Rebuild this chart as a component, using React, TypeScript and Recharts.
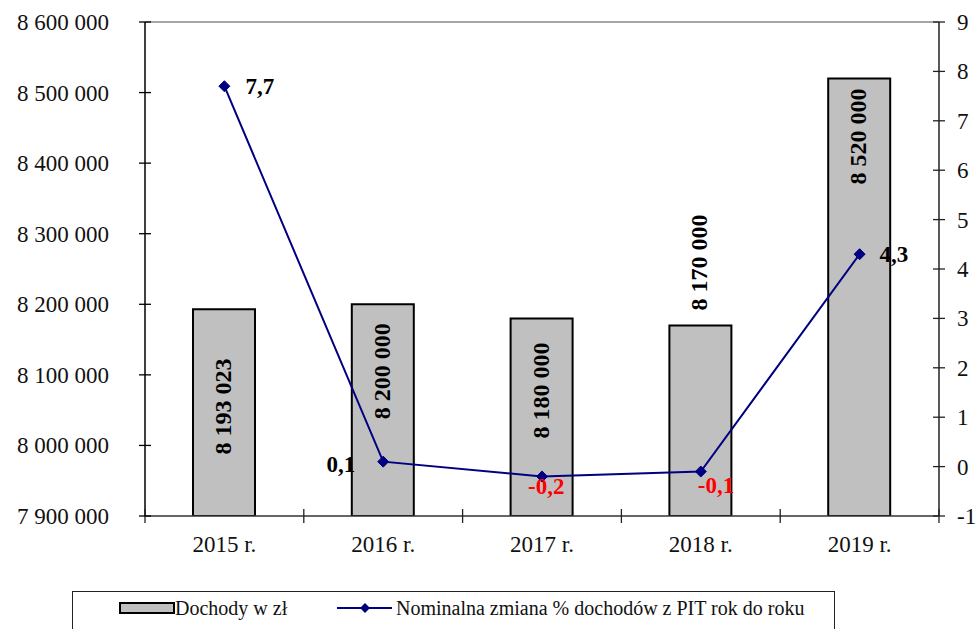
import React from "react";
import {
  ComposedChart,
  Bar,
  Line,
  XAxis,
  YAxis,
  LabelList,
  ReferenceLine,
} from "recharts";

const years = ["2015 r.", "2016 r.", "2017 r.", "2018 r.", "2019 r."];
const incomes = [8193023, 8200000, 8180000, 8170000, 8520000];
const changes = [7.7, 0.1, -0.2, -0.1, 4.3];
const leftTicks = [7900000, 8000000, 8100000, 8200000, 8300000, 8400000, 8500000, 8600000];
const rightTicks = [-1, 0, 1, 2, 3, 4, 5, 6, 7, 8, 9];
const incomeName = "Dochody w zł";
const changeName = "Nominalna zmiana % dochodów z PIT rok do roku";

const data = years.map((y, i) => ({ year: y, income: incomes[i], change: changes[i] }));

const W = 977;
const H = 629;
const LEFT_W = 145;
const RIGHT_W = 38;
const TOP = 22;
const X_H = 113;
const PLOT_R = W - RIGHT_W;
const PLOT_B = H - X_H;
const HALF_BAND = (PLOT_R - LEFT_W) / years.length / 2;
const FONT = "'Liberation Serif', 'Times New Roman', serif";

const fmtSpace = (v: number) => String(v).replace(/\B(?=(\d{3})+(?!\d))/g, " ");
const fmtComma = (v: number) => v.toFixed(1).replace(".", ",");

const LeftTick = (props: any) => {
  const { x, y, payload } = props;
  return (
    <g>
      <line x1={LEFT_W - 6} x2={LEFT_W + 6} y1={y} y2={y} stroke="#000" strokeWidth={1.3} />
      <text x={x} y={y} dy="0.35em" textAnchor="end" fontFamily={FONT} fontSize={23} fill="#111">
        {fmtSpace(payload.value)}
      </text>
    </g>
  );
};

const RightTick = (props: any) => {
  const { x, y, payload } = props;
  return (
    <g>
      <line x1={PLOT_R - 6} x2={PLOT_R + 6} y1={y} y2={y} stroke="#222" strokeWidth={1.3} />
      <text x={x} y={y} dy="0.35em" textAnchor="start" fontFamily={FONT} fontSize={23} fill="#111">
        {payload.value}
      </text>
    </g>
  );
};

const XTick = (props: any) => {
  const { x, y, payload, index } = props;
  const last = index === years.length - 1;
  return (
    <g>
      <line x1={x - HALF_BAND} x2={x - HALF_BAND} y1={PLOT_B - 7} y2={PLOT_B + 7} stroke="#222" strokeWidth={1.3} />
      {last && (
        <line x1={x + HALF_BAND} x2={x + HALF_BAND} y1={PLOT_B - 7} y2={PLOT_B + 7} stroke="#222" strokeWidth={1.3} />
      )}
      <text x={x} y={y} dy="0.71em" textAnchor="middle" fontFamily={FONT} fontSize={23} fill="#111">
        {payload.value}
      </text>
    </g>
  );
};

// label placement rules (per bar): center, or offset from bar top
const barLabelRule = [
  { mode: "middle", off: -6 },
  { mode: "top", off: 19 },
  { mode: "top", off: 24 },
  { mode: "top", off: -111 },
  { mode: "top", off: 10 },
];

const BarLabel = (props: any) => {
  const { x, y, width, height, value, index } = props;
  const rule = barLabelRule[index];
  const px = x + width / 2 + 7;
  let py: number;
  let anchor: "middle" | "end";
  if (rule.mode === "middle") {
    py = y + height / 2 + rule.off;
    anchor = "middle";
  } else {
    py = y + rule.off;
    anchor = "end";
  }
  return (
    <text
      x={px}
      y={py}
      transform={`rotate(-90 ${px} ${py})`}
      textAnchor={anchor}
      fontFamily={FONT}
      fontSize={24}
      fontWeight="bold"
      fill="#000"
    >
      {fmtSpace(value)}
    </text>
  );
};

const lineLabelRule = [
  { dx: 21, dy: 8, anchor: "start" },
  { dx: -28, dy: 10, anchor: "end" },
  { dx: -14, dy: 18, anchor: "start" },
  { dx: -3, dy: 21, anchor: "start" },
  { dx: 20, dy: 8, anchor: "start" },
];

const LineLabel = (props: any) => {
  const { x, y, value, index } = props;
  const r = lineLabelRule[index];
  return (
    <text
      x={x + r.dx}
      y={y + r.dy}
      textAnchor={r.anchor as any}
      fontFamily={FONT}
      fontSize={23}
      fontWeight="bold"
      fill={value < 0 ? "#ff0000" : "#000"}
    >
      {fmtComma(value)}
    </text>
  );
};

const Diamond = (props: any) => {
  const { cx, cy } = props;
  if (cx == null || cy == null) return null;
  const s = 5.5;
  return (
    <path
      d={`M${cx},${cy - s} L${cx + s},${cy} L${cx},${cy + s} L${cx - s},${cy} Z`}
      fill="#000080"
      stroke="#000080"
    />
  );
};

export default function App() {
  return (
    <div style={{ position: "absolute", left: 0, top: 0, width: W, height: H, background: "#fff" }}>
      <ComposedChart
        width={W}
        height={H}
        data={data}
        margin={{ top: TOP, right: 0, bottom: 0, left: 0 }}
      >
        <XAxis
          dataKey="year"
          height={X_H}
          tick={<XTick />}
          tickLine={false}
          tickSize={6}
          tickMargin={14}
          axisLine={{ stroke: "#333", strokeWidth: 1.5 }}
          interval={0}
        />
        <YAxis
          yAxisId="left"
          orientation="left"
          width={LEFT_W}
          domain={[7900000, 8600000]}
          ticks={leftTicks}
          tick={<LeftTick />}
          tickLine={false}
          tickSize={6}
          tickMargin={30}
          axisLine={{ stroke: "#000", strokeWidth: 1.5 }}
          allowDataOverflow
        />
        <YAxis
          yAxisId="right"
          orientation="right"
          width={RIGHT_W}
          domain={[-1, 9]}
          ticks={rightTicks}
          tick={<RightTick />}
          tickLine={false}
          tickSize={6}
          tickMargin={12}
          axisLine={{ stroke: "#222", strokeWidth: 1.5 }}
          allowDataOverflow
        />
        <ReferenceLine yAxisId="left" y={8600000} stroke="#888" strokeWidth={1.5} />
        <Bar
          yAxisId="left"
          dataKey="income"
          name={incomeName}
          fill="#c0c0c0"
          stroke="#000"
          strokeWidth={2}
          barSize={62}
          isAnimationActive={false}
        >
          <LabelList dataKey="income" content={<BarLabel />} />
        </Bar>
        <Line
          yAxisId="right"
          dataKey="change"
          name={changeName}
          type="linear"
          stroke="#000080"
          strokeWidth={2}
          dot={<Diamond />}
          activeDot={false}
          isAnimationActive={false}
        >
          <LabelList dataKey="change" content={<LineLabel />} />
        </Line>
      </ComposedChart>
      <div style={{ position: "absolute", left: 72, top: 591, width: 763, height: 60, border: "1.5px solid #222", boxSizing: "border-box" }} />
      <svg style={{ position: "absolute", left: 0, top: 0 }} width={W} height={H}>
        <rect x={120} y={603} width={54} height={10} fill="#c0c0c0" stroke="#000" strokeWidth={2} />
        <text x={175} y={615} fontFamily={FONT} fontSize={20} fill="#111">{incomeName}</text>
        <line x1={337} x2={392} y1={608} y2={608} stroke="#000080" strokeWidth={2} />
        <path d="M365,603 L370,608 L365,613 L360,608 Z" fill="#000080" />
        <text x={396} y={615} fontFamily={FONT} fontSize={20} fill="#111">{changeName}</text>
      </svg>
    </div>
  );
}
